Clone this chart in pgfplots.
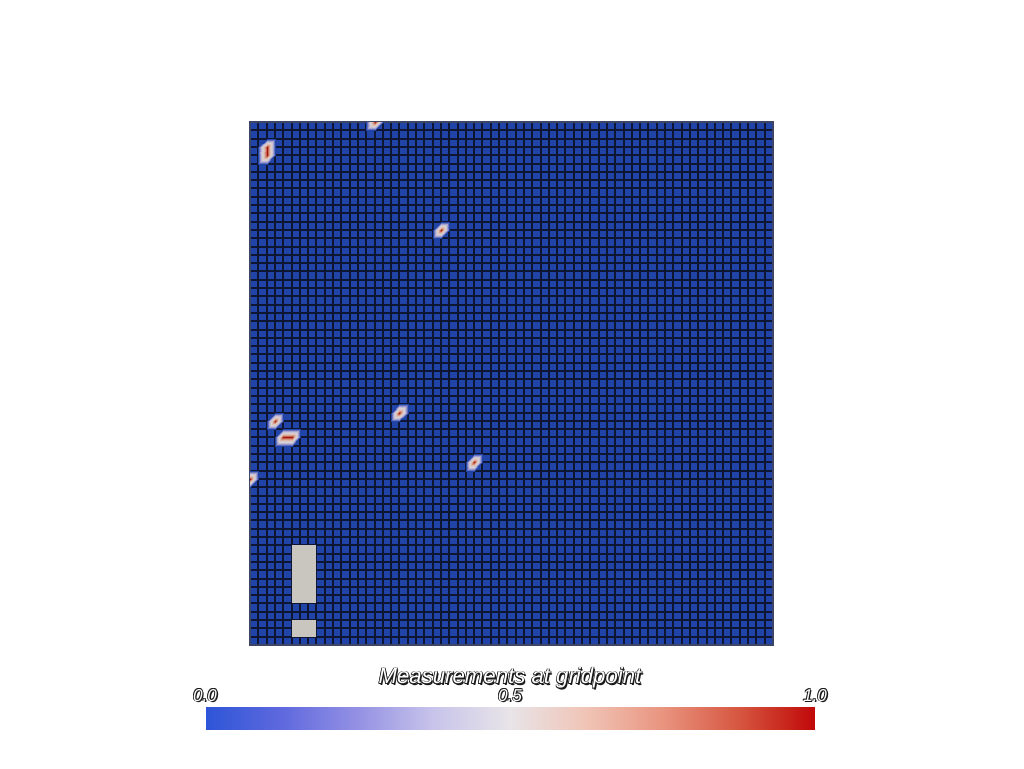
\documentclass[border=0pt]{standalone}
\usepackage{pgfplots}
\pgfplotsset{compat=1.18}
\usepackage{fontspec}
\setmainfont{Liberation Sans}
\definecolor{cellblue}{RGB}{32,68,168}
\definecolor{gridc}{RGB}{14,22,52}
\definecolor{nangray}{RGB}{200,198,191}
\definecolor{vtkedge}{RGB}{25,25,25}
\newcommand\vtk[1]{\leavevmode
 \rlap{\color{vtkedge}\raisebox{-0.7pt}{\kern0.7pt#1}}%
 \rlap{\color{vtkedge}\raisebox{0.35pt}{\kern0.35pt#1}}%
 \rlap{\color{vtkedge}\raisebox{-0.35pt}{\kern-0.35pt#1}}%
 \rlap{\color{vtkedge}\raisebox{0.35pt}{\kern-0.35pt#1}}%
 \rlap{\color{vtkedge}\raisebox{-0.35pt}{\kern0.35pt#1}}%
 {\color{white}#1}}
\pgfplotsset{
 colormap={cwbar}{rgb255=(45,85,215) rgb255=(95,105,222) rgb255=(148,145,228) rgb255=(200,196,234) rgb255=(232,228,232) rgb255=(240,196,182) rgb255=(233,148,127) rgb255=(214,86,64) rgb255=(192,8,8)},
 colormap={cwdark}{rgb255(0cm)=(32,68,168) rgb255(3cm)=(120,125,195) rgb255(6cm)=(185,180,215) rgb255(9cm)=(215,208,212) rgb255(12cm)=(220,200,195) rgb255(15cm)=(215,160,140) rgb255(18cm)=(195,90,70) rgb255(20cm)=(165,20,15)},
}
% hot gridpoints: triangles touching each point (value 1 at hot points, 0 elsewhere)
\pgfplotstableread{
x y c
14 62 0
15 62 0
15 63 1
14 62 0
15 63 1
14 63 0
15 63 1
16 63 0
16 64 0
15 63 1
16 64 0
15 64 0
15 62 0
16 63 0
15 63 1
14 63 0
15 63 1
15 64 0
22 49 0
23 49 0
23 50 1
22 49 0
23 50 1
22 50 0
23 50 1
24 50 0
24 51 0
23 50 1
24 51 0
23 51 0
23 49 0
24 50 0
23 50 1
22 50 0
23 50 1
23 51 0
2 26 0
3 26 0
3 27 1
2 26 0
3 27 1
2 27 0
3 27 1
4 27 0
4 28 0
3 27 1
4 28 0
3 28 0
3 26 0
4 27 0
3 27 1
2 27 0
3 27 1
3 28 0
-1 19 0
0 19 0
0 20 1
-1 19 0
0 20 1
-1 20 0
0 20 1
1 20 0
1 21 0
0 20 1
1 21 0
0 21 0
0 19 0
1 20 0
0 20 1
-1 20 0
0 20 1
0 21 0
17 27 0
18 27 0
18 28 1
17 27 0
18 28 1
17 28 0
18 28 1
19 28 0
19 29 0
18 28 1
19 29 0
18 29 0
18 27 0
19 28 0
18 28 1
17 28 0
18 28 1
18 29 0
26 21 0
27 21 0
27 22 1
26 21 0
27 22 1
26 22 0
27 22 1
28 22 0
28 23 0
27 22 1
28 23 0
27 23 0
27 21 0
28 22 0
27 22 1
26 22 0
27 22 1
27 23 0
3 24 0
4 24 0
4 25 1
3 24 0
4 25 1
3 25 0
4 25 1
5 25 1
5 26 0
4 25 1
5 26 0
4 26 0
4 24 0
5 25 1
4 25 1
3 25 0
4 25 1
4 26 0
4 24 0
5 24 0
5 25 1
5 25 1
6 25 0
6 26 0
5 25 1
6 26 0
5 26 0
5 24 0
6 25 0
5 25 1
1 59 0
2 59 1
2 60 1
1 59 0
2 60 1
1 60 0
2 60 1
3 60 0
3 61 0
2 60 1
3 61 0
2 61 0
2 59 1
3 60 0
2 60 1
1 60 0
2 60 1
2 61 0
1 58 0
2 58 0
2 59 1
1 58 0
2 59 1
1 59 0
2 59 1
3 59 0
3 60 0
2 58 0
3 59 0
2 59 1
}\hotspots
\begin{document}
\begin{tikzpicture}
\useasboundingbox (0,0) rectangle (512pt,384pt);
\begin{axis}[
 at={(125pt,61.5pt)}, anchor=south west,
 scale only axis, width=261.5pt, height=261.5pt,
 xmin=0, xmax=63, ymin=0, ymax=63,
 axis background/.style={fill=cellblue},
 xtick={0,...,63}, ytick={0,...,63},
 xticklabels={}, yticklabels={},
 major tick length=0pt,
 grid=major,
 grid style={draw=gridc, line width=1pt},
 axis line style={draw={rgb,255:red,60;green,70;blue,100}, line width=0.6pt},
 colormap name=cwbar,
 point meta min=0, point meta max=1,
 colorbar horizontal,
 colorbar style={
  at={(parent axis.south west)}, anchor=north west,
  xshift=-22.5pt, yshift=-22.5pt,
  scale only axis, width=305pt, height=11pt,
  xtick={0,0.5,1}, xticklabels={\vtk{0.0},\vtk{0.5},\vtk{1.0}},
  xticklabel pos=upper,
  major tick length=0pt,
  axis line style={draw=none},
  xticklabel style={anchor=base, yshift=3pt, font=\fontsize{8.6}{10}\selectfont\itshape},
  title={\vtk{Measurements at gridpoint}},
  title style={at={(0.5,1)}, anchor=base, yshift=5.6pt, font=\fontsize{11.1}{13}\selectfont\itshape},
 },
]
\addplot[patch, patch type=triangle, shader=interp, colormap name=cwdark, point meta=explicit] table[x=x, y=y, meta=c] {\hotspots};
\addplot[draw=none, fill=nangray] coordinates {(5,5) (8,5) (8,12) (5,12)} -- cycle;
\addplot[draw=none, fill=nangray] coordinates {(5,1) (8,1) (8,3) (5,3)} -- cycle;
\end{axis}
\end{tikzpicture}
\end{document}
